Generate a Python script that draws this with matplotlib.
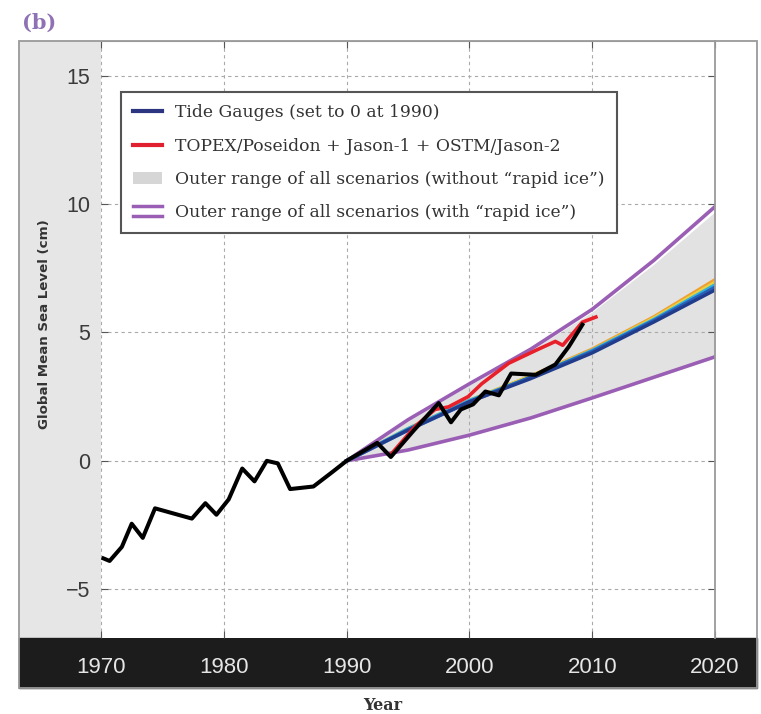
import matplotlib
matplotlib.use("Agg")
from matplotlib import pyplot as plt
from matplotlib.patches import Rectangle, Patch
from matplotlib.lines import Line2D
from matplotlib.legend_handler import HandlerBase

# tide gauge record (cm), set to 0 at 1990
tg_years = [1970.2, 1970.7, 1971.7, 1972.5, 1973.4, 1974.4, 1977.4, 1978.5, 1979.4,
            1980.4, 1981.5, 1982.5, 1983.5, 1984.4, 1985.4, 1987.3, 1988.8, 1990.0,
            1992.5, 1993.6, 1995.5, 1997.5, 1998.5, 1999.3, 2000.3, 2001.3, 2002.4,
            2003.4, 2005.4, 2007.0, 2008.1, 2009.2]
tg_level = [-3.8, -3.9, -3.35, -2.45, -3.0, -1.85, -2.25, -1.65, -2.1,
            -1.5, -0.3, -0.8, 0.0, -0.1, -1.1, -1.0, -0.45, 0.0,
            0.7, 0.15, 1.2, 2.25, 1.5, 2.0, 2.2, 2.7, 2.55,
            3.4, 3.35, 3.75, 4.45, 5.3]

# satellite altimetry
sat_years = [1993.7, 1995.6, 1997.2, 1998.3, 1999.9, 2001.0, 2003.2, 2005.4,
             2007.0, 2007.6, 2009.2, 2010.3]
sat_level = [0.3, 1.35, 2.0, 2.1, 2.5, 3.0, 3.8, 4.3, 4.65, 4.5, 5.4, 5.6]

# scenario projections
proj_years = [1990, 1995, 2000, 2005, 2010, 2015, 2020]
proj_orange = [0, 1.25, 2.35, 3.3, 4.35, 5.6, 7.05]
proj_yellow = [0, 1.25, 2.35, 3.3, 4.3, 5.55, 6.95]
proj_cyan = [0, 1.25, 2.35, 3.25, 4.3, 5.5, 6.85]
proj_blue = [0, 1.2, 2.3, 3.25, 4.25, 5.45, 6.75]
proj_navy = [0, 1.2, 2.3, 3.2, 4.2, 5.4, 6.65]

# outer range without rapid ice (shaded) and with rapid ice (purple)
range_hi = [0, 1.55, 2.95, 4.3, 5.8, 7.65, 9.7]
range_lo = [0, 0.45, 1.05, 1.72, 2.5, 3.3, 4.1]
rapid_hi = [0, 1.6, 3.0, 4.35, 5.9, 7.8, 9.9]
rapid_lo = [0, 0.42, 1.0, 1.67, 2.45, 3.25, 4.05]

xticks = [1970, 1980, 1990, 2000, 2010, 2020]
yticks = [-5, 0, 5, 10, 15]

purple = '#9a5fb4'

W, H = 761, 714
fig = plt.figure(figsize=(W / 100, H / 100), dpi=100)
ax = fig.add_axes([101 / W, 1 - 638 / H, (715 - 101) / W, (638 - 41) / H])

# backgrounds around the axes
fig.add_artist(Rectangle((19 / W, 1 - 638 / H), (101 - 19) / W, (638 - 41) / H,
                         transform=fig.transFigure, color='#e6e6e6', zorder=-2))
fig.add_artist(Rectangle((19 / W, 1 - 688 / H), (757 - 19) / W, 50 / H,
                         transform=fig.transFigure, color='#1c1c1c', zorder=-2))
fig.add_artist(Rectangle((19 / W, 1 - 688 / H), (757 - 19) / W, (688 - 41) / H,
                         transform=fig.transFigure, fill=False, edgecolor='#9a9a9a',
                         lw=1.3, zorder=5))

ax.fill_between(proj_years, range_lo, range_hi, color='#e2e2e2', lw=0)
ax.plot(proj_years, rapid_hi, color=purple, lw=2.6)
ax.plot(proj_years, rapid_lo, color=purple, lw=2.6)

ax.plot(proj_years, proj_orange, color='#f0a030', lw=2.5)
ax.plot(proj_years, proj_yellow, color='#e8d040', lw=2.5)
ax.plot(proj_years, proj_cyan, color='#30b0e0', lw=2.5)
ax.plot(proj_years, proj_blue, color='#2860b8', lw=2.8)
ax.plot(proj_years, proj_navy, color='#223c8c', lw=2.4)

ax.plot(sat_years, sat_level, color='#e8202a', lw=2.6)
ax.plot(tg_years, tg_level, color='black', lw=2.9)

ax.set_xlim(1970, 2020)
ax.set_ylim(-6.9, 16.35)
ax.set_xticks(xticks)
ax.set_yticks(yticks)
ax.set_yticklabels(['\u22125', '0', '5', '10', '15'])
ax.grid(True, color='#aaaaaa', lw=0.8, ls=(0, (3, 3)))
ax.tick_params(axis='both', direction='in', length=5, color='#555555',
               top=True, right=True)
ax.tick_params(axis='x', labelsize=16, labelcolor='#e6e6e6', pad=14)
ax.tick_params(axis='y', labelsize=15.5, labelcolor='#3a3a3a', pad=8)
for lab in ax.get_xticklabels() + ax.get_yticklabels():
    lab.set_family('Liberation Sans')

ax.spines['left'].set_visible(False)
ax.spines['bottom'].set_visible(False)
ax.spines['top'].set_color('#9a9a9a')
ax.spines['right'].set_color('#9a9a9a')
ax.spines['right'].set_linewidth(1.3)


class DoubleLine(HandlerBase):
    def create_artists(self, legend, orig_handle, xdescent, ydescent,
                       width, height, fontsize, trans):
        out = []
        for f in (0.05, 0.95):
            y = height * f - ydescent
            out.append(Line2D([-xdescent, width - xdescent], [y, y],
                              color=orig_handle.get_color(), lw=2.5, transform=trans))
        return out


tide_h = Line2D([], [], color='#2b3580', lw=3)
sat_h = Line2D([], [], color='#e0202e', lw=3)
shade_h = Patch(facecolor='#d6d6d6', edgecolor='none')
rapid_h = Line2D([], [], color=purple)
leg = ax.legend([tide_h, sat_h, shade_h, rapid_h],
                ['Tide Gauges (set to 0 at 1990)',
                 'TOPEX/Poseidon + Jason-1 + OSTM/Jason-2',
                 'Outer range of all scenarios (without \u201crapid ice\u201d)',
                 'Outer range of all scenarios (with \u201crapid ice\u201d)'],
                handler_map={rapid_h: DoubleLine()},
                loc='upper left', bbox_to_anchor=(0.0326, 0.9146), borderaxespad=0,
                fancybox=False, framealpha=1, edgecolor='#555555',
                prop={'family': 'DejaVu Serif', 'size': 12.3},
                handlelength=1.7, labelspacing=0.95, borderpad=0.72,
                handletextpad=0.75)
leg.get_frame().set_linewidth(1.5)
for t in leg.get_texts():
    t.set_color('#333333')

fig.text(45 / W, 1 - 324 / H, 'Global Mean Sea Level (cm)', rotation=90,
         ha='center', va='center', fontsize=9.6, fontweight='bold',
         family='DejaVu Sans', color='#333333')
fig.text(383 / W, 1 - 705 / H, 'Year', ha='center', va='center', fontsize=11.5,
         fontweight='bold', family='DejaVu Serif', color='#333333')
fig.text(22 / W, 1 - 23 / H, '(b)', ha='left', va='center', fontsize=15,
         fontweight='bold', family='DejaVu Serif', color='#8f72b5')

fig.savefig('out.png', dpi=100)
